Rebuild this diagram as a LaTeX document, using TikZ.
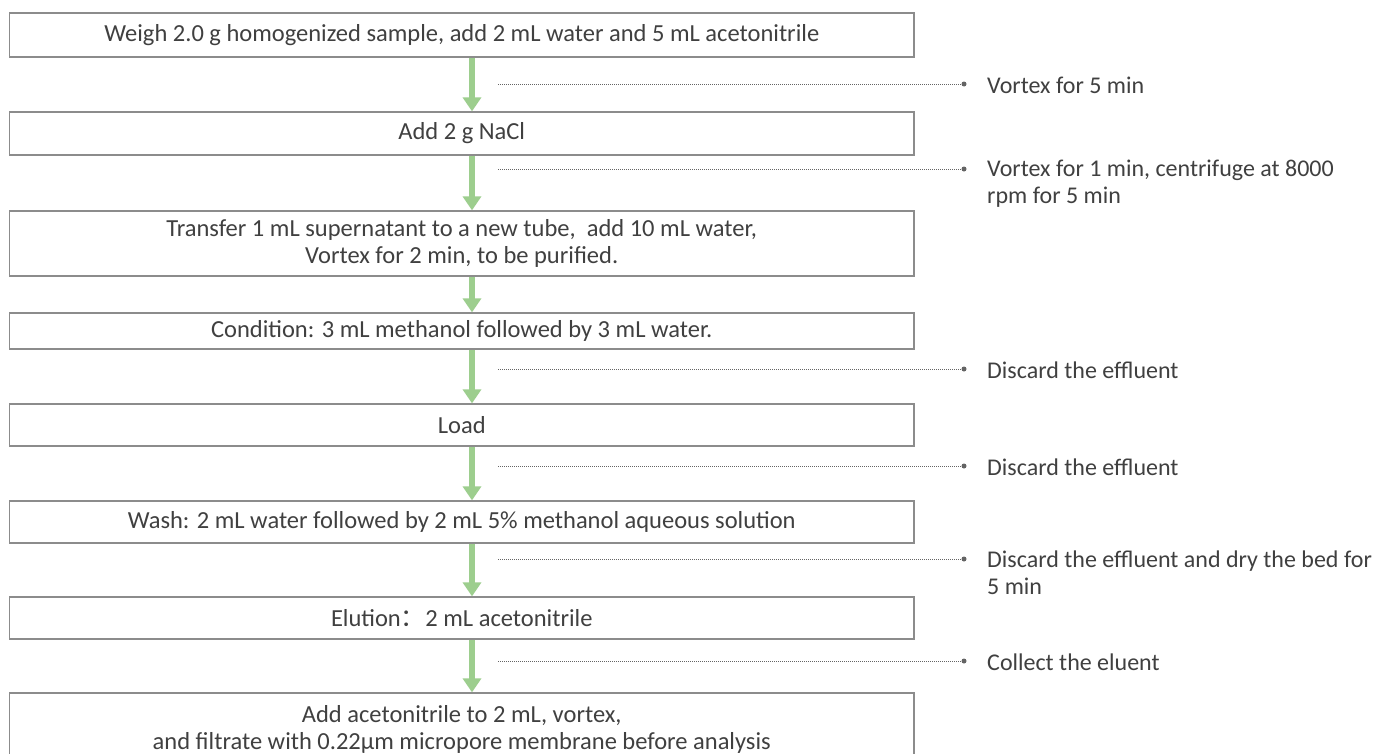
\documentclass[tikz,border=0pt]{standalone}
\usepackage{fontspec}
\setmainfont{Carlito}
\newfontfamily\cjkfont{Noto Sans CJK SC}
\usetikzlibrary{arrows.meta}
\definecolor{boxline}{RGB}{140,140,140}
\definecolor{txt}{RGB}{64,64,64}
\definecolor{arrgreen}{RGB}{157,206,142}
\definecolor{dotc}{RGB}{100,100,100}
\begin{document}
\begin{tikzpicture}[x=1pt,y=-1pt,
  box/.style={draw=boxline,line width=1.3pt,minimum width=904.5pt,inner sep=0pt,align=center,text=txt,font=\fontsize{24.5}{27}\selectfont},
  arr/.style={arrgreen,line width=5.5pt,-{Triangle[width=18pt,length=14pt]}},
  dotline/.style={dotc,line width=0.8pt,dash pattern=on 0.8pt off 1.2pt},
  enddot/.style={fill=dotc,draw=none,circle,inner sep=0pt,minimum size=5pt},
  side/.style={anchor=west,inner sep=0pt,align=left,text=txt,font=\fontsize{24}{27}\selectfont}]
\useasboundingbox (0,0) rectangle (1379,753);
\fill[white] (0,0) rectangle (1379,753);
\clip (0,0) rectangle (1379,753);
% boxes
\node[box,minimum height=44pt] (b1) at (461.75,35) {Weigh 2.0 g homogenized sample, add 2 mL water and 5 mL acetonitrile};
\node[box,minimum height=43pt] (b2) at (461.75,133.5) {Add 2 g NaCl};
\node[box,minimum height=65pt] (b3) at (461.75,243.5) {Transfer 1 mL supernatant to a new tube,\ \ add 10 mL water,\\Vortex for 2 min, to be purified.};
\node[box,minimum height=36pt] (b4) at (461.75,331) {Condition: 3 mL methanol followed by 3 mL water.};
\node[box,minimum height=42pt] (b5) at (461.75,425) {Load};
\node[box,minimum height=42pt] (b6) at (461.75,522) {Wash: 2 mL water followed by 2 mL 5\% methanol aqueous solution};
\node[box,minimum height=42pt] (b7) at (461.75,618) {Elution{\cjkfont ：}2 mL acetonitrile};
\node[box,minimum height=73pt] (b8) at (461.75,729.5) {Add acetonitrile to 2 mL, vortex,\\and filtrate with 0.22μm micropore membrane before analysis};
% arrows
\coordinate (ax) at (472,0);
\draw[arr] (b1.south -| ax) -- (b2.north -| ax);
\draw[arr] (b2.south -| ax) -- (b3.north -| ax);
\draw[arr] (b3.south -| ax) -- (b4.north -| ax);
\draw[arr] (b4.south -| ax) -- (b5.north -| ax);
\draw[arr] (b5.south -| ax) -- (b6.north -| ax);
\draw[arr] (b6.south -| ax) -- (b7.north -| ax);
\draw[arr] (b7.south -| ax) -- (b8.north -| ax);
% side notes
\coordinate (s1) at (498,84);  \node[enddot] (e1) at (964,84) {};
\coordinate (s2) at (498,169); \node[enddot] (e2) at (964,169) {};
\coordinate (s3) at (498,369); \node[enddot] (e3) at (964,369) {};
\coordinate (s4) at (498,466); \node[enddot] (e4) at (964,466) {};
\coordinate (s5) at (498,559); \node[enddot] (e5) at (964,559) {};
\coordinate (s6) at (498,661); \node[enddot] (e6) at (964,661) {};
\draw[dotline] (s1) -- (e1.center);
\draw[dotline] (s2) -- (e2.center);
\draw[dotline] (s3) -- (e3.center);
\draw[dotline] (s4) -- (e4.center);
\draw[dotline] (s5) -- (e5.center);
\draw[dotline] (s6) -- (e6.center);
\node[side] (r1) at (987,85) {Vortex for 5 min};
\node[side] (r2) at (987,184) {Vortex for 1 min, centrifuge at 8000\\rpm for 5 min};
\node[side] (r3) at (987,370) {Discard the effluent};
\node[side] (r4) at (987,467) {Discard the effluent};
\node[side] (r5) at (987,573) {Discard the effluent and dry the bed for\\5 min};
\node[side] (r6) at (987,662) {Collect the eluent};
\end{tikzpicture}
\end{document}
